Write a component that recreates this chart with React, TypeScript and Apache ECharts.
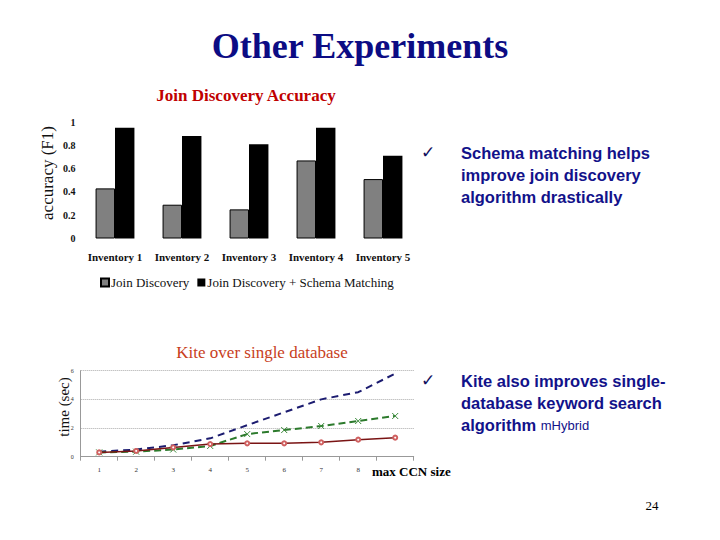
import React, { useEffect, useRef } from "react";
import * as echarts from "echarts";

const barCategories = ["Inventory 1", "Inventory 2", "Inventory 3", "Inventory 4", "Inventory 5"];
const joinDiscovery = [0.43, 0.29, 0.25, 0.67, 0.51];
const joinDiscoverySchema = [0.95, 0.88, 0.81, 0.95, 0.71];
const accuracyTicks = [0, 0.2, 0.4, 0.6, 0.8, 1];

const ccnSizes = ["1", "2", "3", "4", "5", "6", "7", "8", "9"];
const seriesBlue = [0.35, 0.5, 0.8, 1.28, 2.2, 3.1, 4.0, 4.5, 5.8];
const seriesGreen = [0.3, 0.35, 0.5, 0.75, 1.58, 1.86, 2.14, 2.49, 2.84];
const seriesRed = [0.3, 0.4, 0.65, 0.88, 0.93, 0.93, 1.0, 1.19, 1.33];

const bullet1 = ["Schema matching helps", "improve join discovery", "algorithm drastically"];
const bullet2 = ["Kite also improves single-", "database keyword search"];

const SERIF = "'Liberation Serif', 'Times New Roman', serif";
const SANS = "'Liberation Sans', Arial, sans-serif";
const NAVY = "#12128a";

export default function App() {
  const ref = useRef<HTMLDivElement>(null);
  useEffect(() => {
    if (!ref.current) return;
    const chart = echarts.init(ref.current, undefined, { renderer: "svg" });
    const graphics: any[] = [
      {
        type: "text", x: 360, y: 46,
        style: { text: "Other Experiments", font: `bold 36px ${SERIF}`, fill: "#0c0c84", align: "center", verticalAlign: "middle" },
      },
      {
        type: "text", x: 47, y: 173, rotation: Math.PI / 2,
        style: { text: "accuracy (F1)", font: `17px ${SERIF}`, fill: "#111", align: "center", verticalAlign: "middle" },
      },
      {
        type: "text", x: 63.5, y: 407, rotation: Math.PI / 2,
        style: { text: "time (sec)", font: `15px ${SERIF}`, fill: "#111", align: "center", verticalAlign: "middle" },
      },
      {
        type: "text", x: 372, y: 471,
        style: { text: "max CCN size", font: `bold 13px ${SERIF}`, fill: "#000", align: "left", verticalAlign: "middle" },
      },
      {
        type: "text", x: 652, y: 505,
        style: { text: "24", font: `13px ${SERIF}`, fill: "#000", align: "center", verticalAlign: "middle" },
      },
      {
        type: "text", x: 428, y: 152,
        style: { text: "✓", font: `17px 'DejaVu Sans', sans-serif`, fill: "#101060", align: "center", verticalAlign: "middle" },
      },
      {
        type: "text", x: 428, y: 380,
        style: { text: "✓", font: `17px 'DejaVu Sans', sans-serif`, fill: "#101060", align: "center", verticalAlign: "middle" },
      },
    ];
    bullet1.forEach((t, i) => {
      graphics.push({
        type: "text", x: 461, y: 153 + i * 22,
        style: { text: t, font: `bold 16.5px ${SANS}`, fill: NAVY, align: "left", verticalAlign: "middle" },
      });
    });
    bullet2.forEach((t, i) => {
      graphics.push({
        type: "text", x: 461, y: 381 + i * 22,
        style: { text: t, font: `bold 16.5px ${SANS}`, fill: NAVY, align: "left", verticalAlign: "middle" },
      });
    });
    graphics.push({
      type: "text", x: 461, y: 425,
      style: {
        text: "{a|algorithm }{b|mHybrid}", align: "left", verticalAlign: "middle",
        rich: {
          a: { font: `bold 16.5px ${SANS}`, fill: NAVY, color: NAVY },
          b: { font: `13px ${SANS}`, fill: NAVY, color: NAVY },
        },
      },
    });

    chart.setOption({
      animation: false,
      backgroundColor: "#ffffff",
      title: [
        {
          text: "Join Discovery Accuracy", left: 241, top: 82, textAlign: "center",
          textStyle: { fontFamily: SERIF, fontWeight: "bold", fontSize: 17, color: "#c00000" },
        },
        {
          text: "Kite over single database", left: 257, top: 339, textAlign: "center",
          textStyle: { fontFamily: SERIF, fontWeight: "normal", fontSize: 17, color: "#c8401c" },
        },
      ],
      legend: {
        left: 95, top: 271, itemWidth: 8, itemHeight: 8, itemGap: 8, icon: "rect",
        textStyle: { fontFamily: SERIF, fontSize: 13, color: "#111", padding: [0, 0, 0, -3] },
        data: ["Join Discovery", "Join Discovery + Schema Matching"],
      },
      grid: [
        { left: 81.5, top: 122, width: 335, height: 116.5 },
        { left: 80.7, top: 370.7, width: 333, height: 86 },
      ],
      xAxis: [
        {
          type: "category", gridIndex: 0, data: barCategories,
          axisLine: { show: false }, axisTick: { show: false },
          axisLabel: { margin: 13, fontFamily: SERIF, fontWeight: "bold", fontSize: 11, color: "#111", interval: 0 },
        },
        {
          type: "category", gridIndex: 1, data: ccnSizes, boundaryGap: true,
          axisLine: { show: true, lineStyle: { color: "#999", width: 1 } },
          axisTick: { show: true, length: 4, lineStyle: { color: "#999" } },
          axisLabel: {
            margin: 10, fontFamily: SERIF, fontSize: 7, color: "#333", interval: 0,
            formatter: (v: string) => (v === "9" ? "" : v),
          },
        },
      ],
      yAxis: [
        {
          type: "value", gridIndex: 0, min: 0, max: 1, interval: 0.2,
          axisLine: { show: false }, axisTick: { show: false }, splitLine: { show: false },
          axisLabel: {
            margin: 6, fontFamily: SERIF, fontWeight: "bold", fontSize: 10, color: "#111",
            formatter: (v: number) => {
              const t = accuracyTicks.find((a) => Math.abs(a - v) < 1e-6);
              return t === undefined ? "" : String(t);
            },
          },
        },
        {
          type: "value", gridIndex: 1, min: 0, max: 6, interval: 2,
          axisLine: { show: true, lineStyle: { color: "#999", width: 1 } },
          axisTick: { show: false },
          splitLine: { show: true, lineStyle: { color: "#aaa", type: "dotted", width: 1 } },
          axisLabel: { margin: 7, fontFamily: SERIF, fontSize: 6, color: "#333" },
        },
      ],
      graphic: graphics,
      series: [
        {
          name: "Join Discovery", type: "bar", xAxisIndex: 0, yAxisIndex: 0, data: joinDiscovery,
          barGap: "0%", barCategoryGap: "42%",
          itemStyle: { color: "#808080", borderColor: "#000", borderWidth: 1 },
        },
        {
          name: "Join Discovery + Schema Matching", type: "bar", xAxisIndex: 0, yAxisIndex: 0, data: joinDiscoverySchema,
          barGap: "0%", barCategoryGap: "42%",
          itemStyle: { color: "#000" },
        },
        {
          name: "blue", type: "line", xAxisIndex: 1, yAxisIndex: 1, data: seriesBlue,
          symbol: "none", lineStyle: { color: "#1c1c70", width: 2, type: [7, 5] },
        },
        {
          name: "green", type: "line", xAxisIndex: 1, yAxisIndex: 1, data: seriesGreen,
          symbol: "path://M0,0L10,10M10,0L0,10", symbolSize: 6,
          itemStyle: { color: "transparent", borderColor: "#3a8a3a", borderWidth: 1 },
          lineStyle: { color: "#2c7a2c", width: 2, type: [7, 4] },
        },
        {
          name: "red", type: "line", xAxisIndex: 1, yAxisIndex: 1, data: seriesRed,
          symbol: "emptyCircle", symbolSize: 4,
          itemStyle: { color: "#d06060", borderColor: "#d06060", borderWidth: 1 },
          lineStyle: { color: "#7a1414", width: 1.5 },
        },
      ],
    });
    return () => chart.dispose();
  }, []);
  return (
    <div
      ref={ref}
      style={{ position: "fixed", left: 0, top: 0, width: 720, height: 540, background: "#fff" }}
    />
  );
}
